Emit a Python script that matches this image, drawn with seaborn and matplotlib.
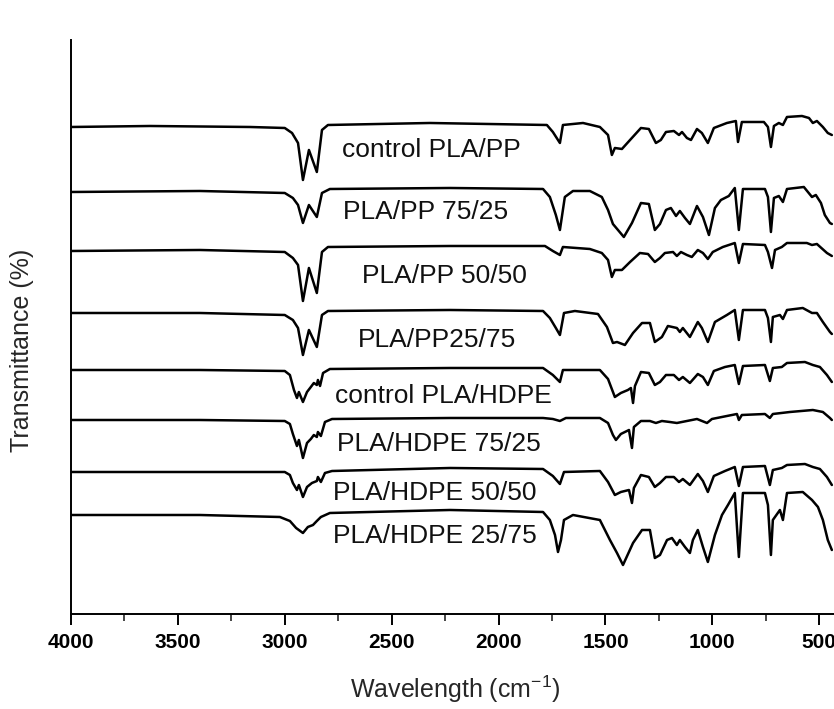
"""FTIR spectra of PLA/PP and PLA/HDPE blends, stacked."""

import matplotlib.pyplot as plt
import pandas as pd
import seaborn as sns
from matplotlib.ticker import MultipleLocator

# (wavenumber cm-1, transmittance in arbitrary stacked units)
CONTROL_PP = [
    (4000, 487), (3631, 488), (3163, 487), (3000, 486), (2966, 481), (2938, 471),
    (2915, 434), (2887, 464), (2850, 442), (2826, 484), (2798, 489), (2321, 491),
    (1774, 489), (1746, 482), (1713, 471), (1699, 489), (1605, 491), (1526, 487),
    (1488, 479), (1470, 459), (1456, 466), (1423, 465), (1385, 474), (1334, 486),
    (1297, 485), (1264, 471), (1241, 474), (1217, 482), (1180, 483), (1156, 479),
    (1142, 482), (1119, 476), (1100, 474), (1072, 485), (1049, 481), (1021, 471),
    (993, 486), (932, 491), (890, 493), (880, 472), (862, 492), (759, 492),
    (740, 487), (726, 467), (712, 488), (689, 491), (670, 489), (651, 497),
    (581, 498), (548, 496), (530, 491), (511, 493), (483, 487), (460, 481), (441, 479),
]
PP_75_25 = [
    (4000, 422), (3397, 423), (3000, 421), (2962, 416), (2938, 409), (2915, 391),
    (2887, 409), (2850, 397), (2826, 421), (2789, 425), (2227, 426), (1792, 425),
    (1760, 417), (1732, 399), (1713, 384), (1690, 417), (1652, 423), (1573, 423),
    (1517, 417), (1488, 404), (1465, 390), (1414, 377), (1376, 391), (1334, 411),
    (1297, 410), (1269, 384), (1245, 390), (1217, 404), (1194, 406), (1170, 398),
    (1152, 403), (1128, 396), (1105, 390), (1072, 408), (1044, 397), (1016, 379),
    (988, 406), (960, 414), (923, 418), (895, 426), (876, 384), (857, 425),
    (754, 425), (740, 417), (726, 382), (712, 416), (689, 418), (670, 412),
    (651, 425), (572, 427), (534, 417), (516, 419), (492, 411), (474, 399),
    (450, 391), (441, 390),
]
PP_50_50 = [
    (4000, 363), (3397, 364), (3000, 362), (2962, 356), (2938, 349), (2915, 313),
    (2887, 346), (2850, 321), (2826, 362), (2798, 367), (2227, 368), (1783, 368),
    (1746, 363), (1713, 359), (1699, 367), (1573, 365), (1517, 361), (1488, 354),
    (1470, 337), (1456, 344), (1423, 344), (1385, 352), (1339, 361), (1301, 360),
    (1269, 352), (1245, 356), (1222, 361), (1184, 362), (1166, 358), (1147, 362),
    (1119, 359), (1096, 357), (1068, 364), (1044, 361), (1021, 355), (998, 362),
    (951, 367), (895, 371), (876, 351), (857, 370), (754, 369), (740, 362),
    (721, 346), (707, 364), (675, 367), (651, 371), (558, 371), (534, 369),
    (511, 370), (464, 361), (441, 358),
]
PP_25_75 = [
    (4000, 301), (3397, 301), (3000, 299), (2962, 294), (2938, 286), (2915, 259),
    (2887, 284), (2850, 267), (2826, 299), (2798, 303), (2227, 304), (1792, 303),
    (1760, 296), (1732, 286), (1713, 279), (1694, 301), (1643, 303), (1535, 300),
    (1493, 287), (1465, 271), (1446, 272), (1409, 269), (1371, 281), (1329, 291),
    (1292, 291), (1269, 272), (1236, 277), (1208, 288), (1166, 286), (1152, 282),
    (1138, 286), (1105, 277), (1068, 292), (1049, 286), (1021, 272), (988, 292),
    (932, 299), (895, 304), (876, 274), (857, 304), (754, 304), (740, 296),
    (726, 272), (717, 297), (684, 299), (670, 295), (651, 304), (577, 306),
    (534, 301), (511, 301), (483, 292), (450, 282), (441, 280),
]
CONTROL_HDPE = [
    (4000, 244), (3397, 244), (3000, 243), (2976, 239), (2957, 224), (2943, 216),
    (2934, 222), (2915, 212), (2896, 222), (2878, 227), (2864, 231), (2850, 229),
    (2845, 234), (2835, 228), (2821, 241), (2789, 245), (2227, 246), (1792, 246),
    (1746, 239), (1713, 232), (1699, 244), (1526, 244), (1488, 235), (1456, 217),
    (1428, 221), (1395, 224), (1381, 226), (1371, 211), (1362, 228), (1334, 242),
    (1297, 241), (1269, 229), (1245, 232), (1217, 239), (1180, 239), (1156, 234),
    (1138, 237), (1105, 231), (1068, 240), (1044, 237), (1021, 229), (993, 243),
    (941, 247), (895, 249), (876, 230), (857, 248), (754, 249), (731, 233),
    (717, 246), (675, 247), (651, 251), (567, 252), (530, 249), (497, 247),
    (464, 239), (441, 232),
]
HDPE_75_25 = [
    (4000, 194), (3397, 194), (3000, 193), (2976, 190), (2962, 180), (2943, 168),
    (2934, 174), (2915, 156), (2896, 171), (2878, 175), (2864, 179), (2850, 177),
    (2845, 182), (2831, 178), (2812, 192), (2779, 195), (2227, 196), (1792, 196),
    (1746, 195), (1713, 193), (1685, 196), (1526, 196), (1488, 191), (1465, 179),
    (1451, 174), (1428, 180), (1390, 184), (1376, 166), (1367, 187), (1334, 193),
    (1292, 193), (1264, 191), (1236, 193), (1199, 192), (1166, 191), (1119, 193),
    (1072, 195), (1025, 191), (1002, 195), (932, 198), (885, 200), (876, 194),
    (862, 199), (754, 200), (731, 196), (717, 200), (637, 202), (530, 204),
    (483, 202), (450, 196), (441, 194),
]
HDPE_50_50 = [
    (4000, 142), (3397, 142), (3000, 142), (2976, 139), (2962, 131), (2943, 124),
    (2934, 129), (2915, 117), (2896, 127), (2873, 131), (2850, 133), (2845, 137),
    (2831, 132), (2812, 141), (2779, 143), (2227, 146), (1792, 145), (1746, 138),
    (1713, 130), (1694, 142), (1526, 143), (1488, 132), (1456, 119), (1428, 122),
    (1390, 124), (1376, 111), (1367, 126), (1334, 139), (1297, 137), (1269, 127),
    (1245, 131), (1217, 137), (1180, 137), (1156, 132), (1138, 135), (1105, 129),
    (1068, 140), (1044, 133), (1021, 122), (993, 138), (941, 143), (895, 147),
    (876, 128), (857, 147), (754, 148), (731, 129), (717, 144), (675, 146),
    (651, 149), (567, 150), (530, 147), (497, 145), (464, 137), (441, 129),
]
HDPE_25_75 = [
    (4000, 99), (3397, 99), (3023, 97), (2976, 93), (2947, 86), (2915, 81),
    (2892, 87), (2868, 89), (2850, 93), (2831, 97), (2789, 101), (2227, 104),
    (1792, 102), (1760, 94), (1736, 79), (1722, 62), (1708, 74), (1694, 94),
    (1652, 99), (1526, 94), (1479, 74), (1446, 61), (1418, 49), (1371, 71),
    (1329, 84), (1292, 84), (1269, 56), (1245, 59), (1212, 74), (1189, 76),
    (1166, 69), (1152, 74), (1128, 67), (1105, 61), (1091, 74), (1068, 84),
    (1044, 67), (1021, 52), (988, 79), (955, 99), (927, 109), (895, 121),
    (876, 57), (857, 121), (754, 121), (740, 109), (726, 59), (717, 94),
    (684, 104), (670, 94), (651, 121), (577, 122), (534, 114), (506, 107),
    (483, 94), (460, 74), (441, 64),
]

SAMPLES = [
    "control PLA/PP", "PLA/PP 75/25", "PLA/PP 50/50", "PLA/PP25/75",
    "control PLA/HDPE", "PLA/HDPE 75/25", "PLA/HDPE 50/50", "PLA/HDPE 25/75",
]
SPECTRA = [CONTROL_PP, PP_75_25, PP_50_50, PP_25_75,
           CONTROL_HDPE, HDPE_75_25, HDPE_50_50, HDPE_25_75]

# label anchor (left edge, baseline) in data coordinates
LABEL_POS = [(2732, 457), (2728, 395), (2639, 331), (2658, 267),
             (2765, 211), (2756, 163), (2775, 114), (2775, 71)]


def main() -> None:
    sns.set_theme(style="white")
    plt.rcParams.update({
        "font.family": ["Liberation Sans", "DejaVu Sans"],
        "mathtext.default": "regular",
        "axes.edgecolor": "black",
        "axes.linewidth": 1.4,
    })

    rows = []
    for name, spectrum in zip(SAMPLES, SPECTRA):
        for wn, t in spectrum:
            rows.append({"sample": name, "wavenumber": wn, "signal": t})
    df = pd.DataFrame(rows)

    fig = plt.figure(figsize=(8.34, 7.09), dpi=100)
    ax = fig.add_axes([0.0851, 0.134, 0.9149, 0.8096])
    sns.lineplot(
        data=df, x="wavenumber", y="signal", hue="sample",
        palette=["black"] * len(SAMPLES), estimator=None, sort=False,
        linewidth=1.8, legend=False, ax=ax,
    )
    for line in ax.get_lines():
        line.set_solid_joinstyle("round")

    for name, (x, y) in zip(SAMPLES, LABEL_POS):
        ax.text(x, y, name, ha="left", va="baseline", fontsize=19, color="#111111")

    ax.set_xlim(4000, 431)
    ax.set_ylim(0, 574)
    ax.set_yticks([])
    ax.set_xticks(range(4000, 499, -500))
    ax.xaxis.set_minor_locator(MultipleLocator(250))
    ax.tick_params(axis="x", which="major", direction="out", length=8, width=1.4,
                   bottom=True, pad=6, labelsize=15, colors="black")
    ax.tick_params(axis="x", which="minor", direction="out", length=5, width=1.2, bottom=True)
    for lbl in ax.get_xticklabels():
        lbl.set_fontweight("bold")

    ax.set_xlabel("Wavelength (cm$^{-1}$)", fontsize=18)
    ax.set_ylabel("Transmittance (%)", fontsize=18)
    ax.xaxis.set_label_coords(0.503, -0.104)
    ax.yaxis.set_label_coords(-0.049, 0.46)
    sns.despine(ax=ax, top=True, right=True)

    fig.savefig("out.png", dpi=100)


if __name__ == "__main__":
    main()
